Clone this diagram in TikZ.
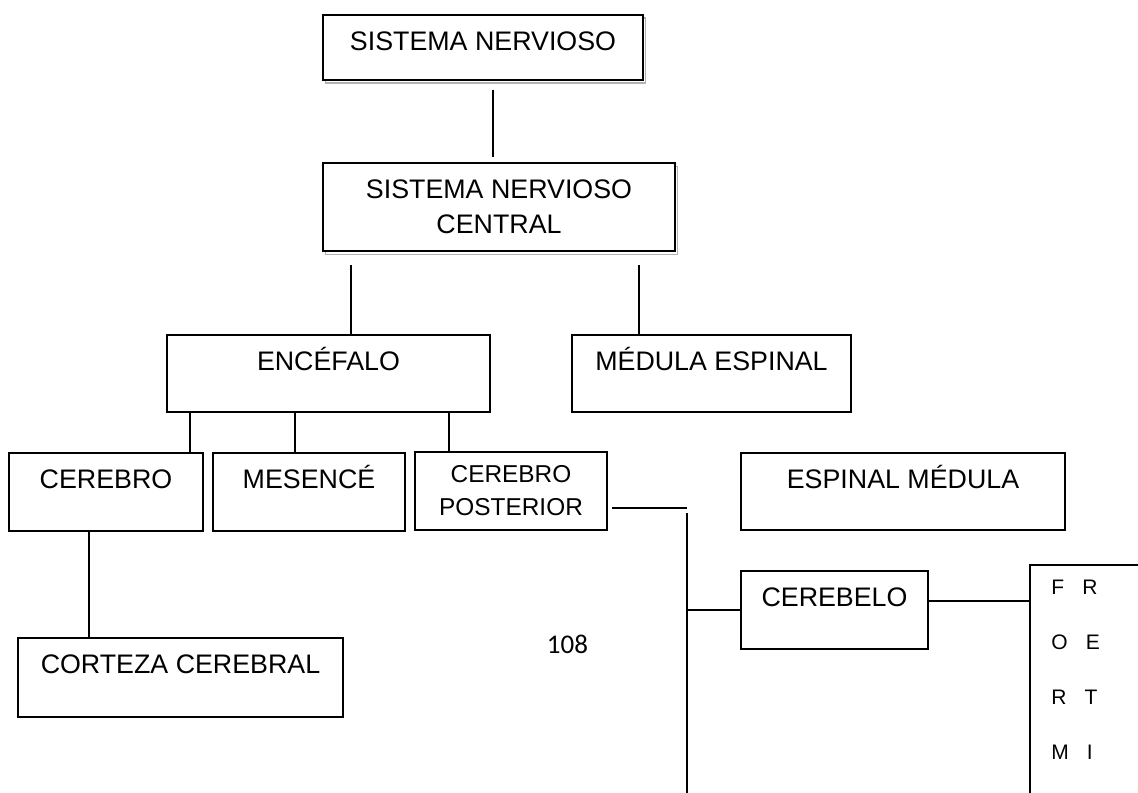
\documentclass[tikz,border=0pt]{standalone}
\usepackage{fontspec}
\setmainfont{Liberation Sans}
\newfontfamily\pagefont{Carlito}
\usetikzlibrary{shadows}
\newcommand{\boxfont}{\fontsize{13.4}{17.5}\selectfont}
\newcommand{\smallboxfont}{\fontsize{12.2}{16.5}\selectfont}
\tikzset{
  box/.style={rectangle,draw=black,line width=0.8pt,fill=white,inner sep=0pt,font=\boxfont},
  topbox/.style={box,anchor=north,text height=18pt,text depth=#1},
  topbox/.default=20.5pt,
  twobox/.style={box,align=center},
  shadowed/.style={drop shadow={shadow xshift=1.25pt,shadow yshift=-1.75pt,fill=none,draw=black!60,line width=0.8pt}},
  link/.style={draw=black,line width=0.8pt}
}

\begin{document}
\begin{tikzpicture}[x=0.5pt,y=-0.5pt]
  \path[use as bounding box,clip] (0,0) rectangle (1138,792);
  \node[topbox=14.5pt,shadowed,minimum width=160pt] (sn) at (483,14) {SISTEMA NERVIOSO\hspace{8pt}};
  \node[twobox,shadowed,minimum width=176pt,minimum height=44pt] (snc) at (499,207) {SISTEMA NERVIOSO\\CENTRAL};
  \node[topbox,minimum width=161.5pt] (encefalo) at (328.5,334) {ENCÉFALO};
  \node[topbox,minimum width=139.5pt] (medula) at (711.5,334) {MÉDULA ESPINAL};
  \node[topbox=21pt,minimum width=97pt] (cerebro) at (106,452) {CEREBRO};
  \node[topbox=21pt,minimum width=96pt] (mesence) at (309,452) {MESENCÉ};
  \node[twobox,font=\smallboxfont,minimum width=96pt,minimum height=39pt] (posterior) at (511,491) {CEREBRO\\POSTERIOR};
  \node[topbox,minimum width=162pt] (espinal) at (903,452) {ESPINAL MÉDULA};
  \node[topbox=21pt,minimum width=93.5pt] (cerebelo) at (834.5,570) {CEREBELO};
  \node[topbox=21.5pt,minimum width=162.5pt] (corteza) at (180.5,637) {CORTEZA CEREBRAL};
  \node[box,anchor=north west,minimum width=70pt,minimum height=130pt] (formbox) at (1029,564) {};
  \node[anchor=north west,inner sep=0pt,align=left,font=\fontsize{10.5}{27.5}\selectfont] (formtext) at (1051,580)
    {F\hspace{9pt}R\\O\hspace{9pt}E\\R\hspace{9pt}T\\M\hspace{9pt}I};
  \node[anchor=base,inner sep=0pt,font=\pagefont\fontsize{13.5}{16}\selectfont] (pagenum) at (567.5,653) {108};

  \coordinate (hook) at (687,508);
  \coordinate (trunktop) at (687,513);
  \coordinate (trunkend) at (687,800);
  \coordinate (cbout) at ([yshift=4.5pt]cerebelo.east);

  \draw[link] ([xshift=5pt,yshift=-4.5pt]sn.south) -- ([xshift=-3pt,yshift=2.5pt]snc.north);
  \draw[link] ([xshift=-74pt,yshift=-6.5pt]snc.south) -- ([xshift=11.25pt]encefalo.north);
  \draw[link] ([xshift=70pt,yshift=-6.5pt]snc.south) -- ([xshift=-36.25pt]medula.north);
  \draw[link] ([xshift=-69.25pt]encefalo.south) -- ([xshift=42pt]cerebro.north);
  \draw[link] ([xshift=-16.75pt]encefalo.south) -- ([xshift=-7pt]mesence.north);
  \draw[link] ([xshift=60.25pt]encefalo.south) -- ([xshift=-31pt]posterior.north);
  \draw[link] ([xshift=-8.5pt]cerebro.south) -- ([xshift=-45.75pt]corteza.north);
  \draw[link] ([xshift=2pt,yshift=-8.5pt]posterior.east) -- (hook);
  \draw[link] (trunktop) -- (trunkend);
  \draw[link] (cerebelo.west -| trunktop) -- (cerebelo.west);
  \draw[link] (cbout) -- (cbout -| formbox.west);
\end{tikzpicture}
\end{document}
